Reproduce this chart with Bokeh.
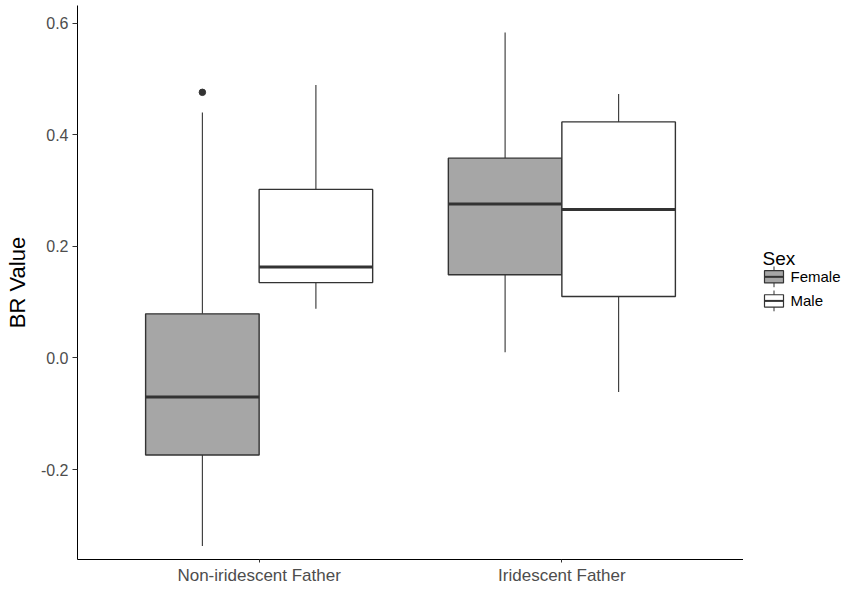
from bokeh.plotting import figure
from bokeh.models import ColumnDataSource, FactorRange, Range1d, FixedTicker, PrintfTickFormatter
from bokeh.transform import dodge
from bokeh.layouts import row
from bokeh.embed import file_html
from bokeh.resources import INLINE
from bokeh.core.properties import value

# ---------------- data ----------------
categories = ["Non-iridescent Father", "Iridescent Father"]
sexes = ["Female", "Male"]

female_lower = [-0.337, 0.010]
female_q1 = [-0.174, 0.149]
female_median = [-0.070, 0.276]
female_q3 = [0.079, 0.358]
female_upper = [0.440, 0.583]

male_lower = [0.088, -0.061]
male_q1 = [0.135, 0.110]
male_median = [0.163, 0.266]
male_q3 = [0.302, 0.423]
male_upper = [0.489, 0.473]

outlier_category = ["Non-iridescent Father"]
outlier_sex = ["Female"]
outlier_value = [0.476]

y_ticks = [-0.2, 0.0, 0.2, 0.4, 0.6]

# ---------------- style ----------------
FONT = "Liberation Sans"
fill_colors = {"Female": "#A6A6A6", "Male": "#FFFFFF"}
LINE = "#333333"
BOX_W = 0.375

stats = {
    "Female": dict(lower=female_lower, q1=female_q1, median=female_median, q3=female_q3, upper=female_upper),
    "Male": dict(lower=male_lower, q1=male_q1, median=male_median, q3=male_q3, upper=male_upper),
}

H = 587
TOP, BOTTOM = 5, 26
frame_h = H - TOP - BOTTOM
PX_PER_UNIT = 560.0
y_top = 0.6 + (22.7 - TOP) / PX_PER_UNIT
y_bot = y_top - frame_h / PX_PER_UNIT

p = figure(width=743, height=H,
           x_range=FactorRange(factors=categories, range_padding=0.1, range_padding_units="absolute"),
           y_range=Range1d(y_bot, y_top),
           output_backend="svg", toolbar_location=None,
           min_border_left=77, min_border_right=0, min_border_top=TOP, min_border_bottom=BOTTOM)
p.grid.visible = False
p.outline_line_color = None
p.background_fill_color = "white"
p.border_fill_color = "white"

offsets = {}
for i, s in enumerate(sexes):
    off = (i - 0.5) * BOX_W
    offsets[s] = off
    d = dict(cat=categories, **stats[s])
    src = ColumnDataSource(d)
    xc = dodge("cat", off, range=p.x_range)
    p.segment(x0=xc, x1=xc, y0="q3", y1="upper", source=src, line_color=LINE, line_width=1.1)
    p.segment(x0=xc, x1=xc, y0="q1", y1="lower", source=src, line_color=LINE, line_width=1.1)
    p.vbar(x=xc, width=BOX_W, bottom="q1", top="q3", source=src,
           fill_color=fill_colors[s], line_color=LINE, line_width=1.4)
    p.segment(x0=dodge("cat", off - BOX_W / 2, range=p.x_range),
              x1=dodge("cat", off + BOX_W / 2, range=p.x_range),
              y0="median", y1="median", source=src, line_color=LINE, line_width=3)

for s in sexes:
    cats = [c for c, ss in zip(outlier_category, outlier_sex) if ss == s]
    vals = [v for v, ss in zip(outlier_value, outlier_sex) if ss == s]
    if cats:
        osrc = ColumnDataSource(dict(cat=cats, value=vals))
        p.scatter(x=dodge("cat", offsets[s], range=p.x_range), y="value", source=osrc,
                  size=6.5, fill_color=LINE, line_color=LINE)

# axes
p.yaxis.ticker = FixedTicker(ticks=y_ticks)
p.yaxis.formatter = PrintfTickFormatter(format="%.1f")
p.yaxis.axis_label = "BR Value"
p.yaxis.axis_label_text_font = FONT
p.yaxis.axis_label_text_font_size = "22px"
p.yaxis.axis_label_text_font_style = "normal"
p.yaxis.axis_label_text_color = "black"
p.yaxis.axis_label_standoff = 8
p.yaxis.minor_tick_line_color = None

for ax in (p.xaxis, p.yaxis):
    ax.axis_line_color = "black"
    ax.axis_line_width = 1
    ax.major_tick_line_color = LINE
    ax.major_tick_in = 0
    ax.major_label_text_font = FONT
    ax.major_label_text_font_size = "16px"
    ax.major_label_text_color = "#4D4D4D"
    ax.major_label_standoff = 4

p.yaxis.major_tick_out = 5
p.xaxis.major_tick_out = 3
p.xaxis.major_label_standoff = 3
p.xaxis.major_label_text_font_size = "17px"

# ---------------- legend (separate panel) ----------------
LW = 842 - 743
leg = figure(width=LW, height=H, x_range=Range1d(0, LW), y_range=Range1d(H, 0),
             output_backend="svg", toolbar_location=None,
             x_axis_location=None, y_axis_location=None, min_border=0)
leg.grid.visible = False
leg.outline_line_color = None
leg.background_fill_color = "white"
leg.border_fill_color = "white"

legend_title = "Sex"
title_x, title_y = 19, 268
key_left, key_right = 21.0, 40.0
label_x = 47
row0, row_gap = 287.5, 25.5
box_half, whisk_half = 6.5, 11.0

leg.text(x=[title_x], y=[title_y], text=[legend_title], text_font=value(FONT),
         text_font_size="19px", text_color="black", text_baseline="alphabetic", text_align="left")

kc = (key_left + key_right) / 2
rows_y = [row0 + i * row_gap for i in range(len(sexes))]
n = len(sexes)
lsrc = ColumnDataSource(dict(
    y=rows_y, label=sexes, fill=[fill_colors[s] for s in sexes],
    left=[key_left] * n, right=[key_right] * n,
    btop=[y - box_half for y in rows_y], bbot=[y + box_half for y in rows_y],
    wtop=[y - whisk_half for y in rows_y], wbot=[y + whisk_half for y in rows_y],
    kx=[kc] * n, lx=[label_x] * n))
leg.segment(x0="kx", x1="kx", y0="wtop", y1="wbot", source=lsrc, line_color=LINE, line_width=1)
leg.quad(left="left", right="right", top="btop", bottom="bbot", source=lsrc,
         fill_color="fill", line_color=LINE, line_width=1.2)
leg.segment(x0="left", x1="right", y0="y", y1="y", source=lsrc, line_color=LINE, line_width=2)
leg.text(x="lx", y="y", text="label", source=lsrc, text_font=value(FONT),
         text_font_size="15px", text_color="black", text_baseline="middle", text_align="left")

layout = row(p, leg)
open("out.html", "w").write(file_html(layout, INLINE))
